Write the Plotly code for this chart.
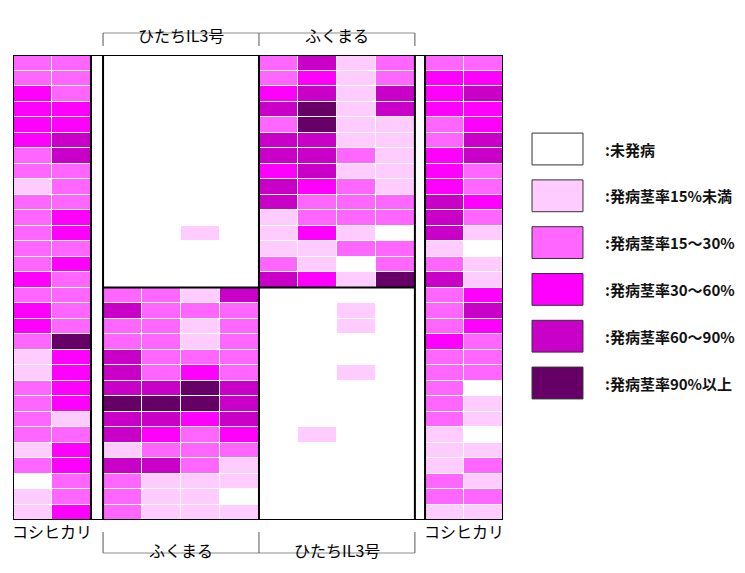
import plotly.graph_objects as go

# Disease severity classes (0 = no disease ... 5 = 90% or more tillers infected)
class_labels = [":未発病", ":発病茎率15%未満", ":発病茎率15～30%",
                ":発病茎率30～60%", ":発病茎率60～90%", ":発病茎率90%以上"]
class_colors = ["#FFFFFF", "#FFCCFF", "#FF66FF", "#FF00FF", "#C800C8", "#660066"]

side_variety = "コシヒカリ"
top_groups = ["ひたちIL3号", "ふくまる"]
bottom_groups = ["ふくまる", "ひたちIL3号"]

# Border rows of コシヒカリ (30 rows x 2 columns), left and right
koshi_left = [
    [2, 2], [2, 2], [3, 2], [3, 3], [3, 3], [3, 4], [2, 4], [2, 2], [1, 2], [2, 2],
    [2, 3], [2, 3], [2, 2], [2, 3], [3, 2], [2, 2], [3, 2], [3, 2], [2, 5], [1, 3],
    [1, 3], [2, 3], [2, 3], [2, 1], [2, 2], [1, 3], [2, 3], [0, 2], [1, 2], [1, 3],
]
koshi_right = [
    [2, 2], [3, 3], [3, 4], [3, 3], [2, 3], [2, 4], [3, 4], [3, 2], [3, 2], [4, 3],
    [4, 2], [4, 1], [1, 0], [2, 1], [4, 1], [2, 3], [2, 4], [2, 3], [3, 2], [2, 2],
    [2, 2], [2, 0], [2, 1], [2, 1], [1, 0], [1, 1], [1, 2], [2, 1], [2, 2], [1, 1],
]

# Upper half of the main plot: ひたちIL3号 (left) and ふくまる (right), 15 rows x 4 columns
hitachi_top = [
    [0, 0, 0, 0], [0, 0, 0, 0], [0, 0, 0, 0], [0, 0, 0, 0], [0, 0, 0, 0],
    [0, 0, 0, 0], [0, 0, 0, 0], [0, 0, 0, 0], [0, 0, 0, 0], [0, 0, 0, 0],
    [0, 0, 0, 0], [0, 0, 1, 0], [0, 0, 0, 0], [0, 0, 0, 0], [0, 0, 0, 0],
]
fukumaru_top = [
    [2, 4, 1, 2], [2, 3, 1, 2], [3, 4, 1, 4], [4, 5, 1, 4], [2, 5, 1, 1],
    [4, 4, 1, 1], [4, 4, 2, 1], [3, 4, 1, 1], [4, 3, 2, 1], [4, 2, 2, 2],
    [1, 2, 2, 2], [1, 3, 1, 0], [1, 1, 2, 2], [2, 1, 0, 2], [4, 3, 1, 5],
]
# Lower half: ふくまる (left) and ひたちIL3号 (right)
fukumaru_bottom = [
    [2, 2, 1, 4], [4, 2, 2, 2], [2, 2, 1, 2], [2, 2, 1, 2], [4, 2, 2, 2],
    [4, 2, 3, 2], [4, 4, 5, 4], [5, 5, 5, 4], [4, 4, 3, 4], [4, 3, 2, 3],
    [1, 2, 2, 2], [4, 4, 2, 1], [2, 1, 1, 1], [2, 1, 1, 0], [2, 1, 1, 1],
]
hitachi_bottom = [
    [0, 0, 0, 0], [0, 0, 1, 0], [0, 0, 1, 0], [0, 0, 0, 0], [0, 0, 0, 0],
    [0, 0, 1, 0], [0, 0, 0, 0], [0, 0, 0, 0], [0, 0, 0, 0], [0, 1, 0, 0],
    [0, 0, 0, 0], [0, 0, 0, 0], [0, 0, 0, 0], [0, 0, 0, 0], [0, 0, 0, 0],
]

# ---- field geometry (column widths in plot units, alleys are narrower) ----
ALLEY_L, ALLEY_R = 0.31, 0.26
widths = [1, 1, ALLEY_L] + [1] * 8 + [ALLEY_R, 1, 1]
x_edges = [0.0]
for w in widths:
    x_edges.append(x_edges[-1] + w)
n_rows = len(koshi_left)
half = n_rows // 2
y_edges = list(range(n_rows + 1))

z = []
for r in range(n_rows):
    main = (hitachi_top[r] + fukumaru_top[r]) if r < half else \
        (fukumaru_bottom[r - half] + hitachi_bottom[r - half])
    z.append(koshi_left[r] + [None] + main + [None] + koshi_right[r])

ncls = len(class_colors)
colorscale = []
for i, c in enumerate(class_colors):
    colorscale += [[i / ncls, c], [(i + 1) / ncls, c]]

fig = go.Figure()
fig.add_trace(go.Heatmap(
    z=z, x=x_edges, y=y_edges, zmin=-0.5, zmax=ncls - 0.5,
    colorscale=colorscale, showscale=False, xgap=1, ygap=1,
    hoverinfo="skip",
))

# Legend swatches as horizontal bars on their own axes
fig.add_trace(go.Bar(
    x=[1] * ncls, y=list(range(ncls)), orientation="h", width=0.68,
    marker=dict(color=class_colors, line=dict(color="#333333", width=1)),
    xaxis="x2", yaxis="y2", showlegend=False, hoverinfo="skip",
))

W, H = 745, 573
x_total = x_edges[-1]
fig.update_layout(
    width=W, height=H, margin=dict(l=0, r=0, t=0, b=0),
    paper_bgcolor="white", plot_bgcolor="white", showlegend=False,
    xaxis=dict(domain=[13 / W, 503 / W], range=[0, x_total], visible=False),
    yaxis=dict(domain=[(H - 520) / H, (H - 55) / H], range=[n_rows, 0], visible=False),
    xaxis2=dict(domain=[531 / W, 584 / W], range=[-0.02, 1.02], visible=False, anchor="y2"),
    yaxis2=dict(domain=[(H - 406.4) / H, (H - 125.6) / H], range=[ncls - 0.5, -0.5],
                visible=False, anchor="x2"),
)

# Block borders
main_l = x_edges[3]
main_mid = x_edges[7]
main_r = x_edges[11]
line_k = dict(color="black", width=2)
shapes = [dict(type="rect", xref="x", yref="y", x0=0, x1=x_total, y0=0, y1=n_rows, line=line_k)]
for xv in [x_edges[2], main_l, main_mid, main_r, x_edges[12]]:
    shapes.append(dict(type="line", xref="x", yref="y", x0=xv, x1=xv, y0=0, y1=n_rows, line=line_k))
shapes.append(dict(type="line", xref="x", yref="y", x0=main_l, x1=main_r, y0=half, y1=half, line=line_k))

# Variety brackets above and below the main plot
br = dict(color="#8c8c8c", width=1)
ty_h, ty_t = (H - 33) / H, (H - 46) / H
by_h, by_t = (H - 553) / H, (H - 532) / H
for yh, yt in [(ty_h, ty_t), (by_h, by_t)]:
    shapes.append(dict(type="line", xref="x", yref="paper", x0=main_l, x1=main_r, y0=yh, y1=yh, line=br))
    for xv in [main_l, main_mid, main_r]:
        shapes.append(dict(type="line", xref="x", yref="paper", x0=xv, x1=xv, y0=yh, y1=yt,
                           line=dict(color="#555555", width=1)))
fig.update_layout(shapes=shapes)

font_jp = dict(family="Noto Sans CJK JP", size=16, color="#000000")
ann = []
centers = [(main_l + main_mid) / 2, (main_mid + main_r) / 2]
for cx, txt in zip(centers, top_groups):
    ann.append(dict(x=cx, y=(H - 21) / H, xref="x", yref="paper", text=txt,
                    showarrow=False, font=font_jp))
for cx, txt in zip(centers, bottom_groups):
    ann.append(dict(x=cx, y=(H - 564) / H, xref="x", yref="paper", text=txt,
                    showarrow=False, font=font_jp))
for cx in [x_edges[1], x_edges[13]]:
    ann.append(dict(x=cx, y=(H - 545) / H, xref="x", yref="paper", text=side_variety,
                    showarrow=False, font=font_jp))
for i, txt in enumerate(class_labels):
    ann.append(dict(x=603 / W, y=i, xref="paper", yref="y2", text="<b>" + txt + "</b>",
                    xanchor="left", showarrow=False,
                    font=dict(family="Noto Sans CJK JP", size=15, color="#111111")))
fig.update_layout(annotations=ann)

fig.write_html("out.html")
